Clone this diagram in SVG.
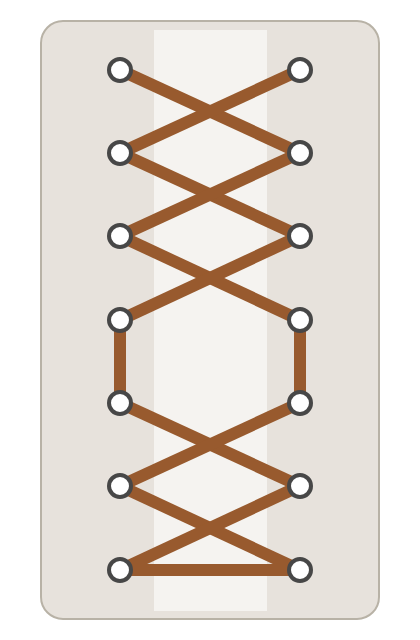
<svg xmlns="http://www.w3.org/2000/svg" width="420" height="640" viewBox="0 0 420 640">
<style>
.lace{stroke:#985a2e;stroke-width:12;fill:none;stroke-linecap:butt}
.eye{fill:#ffffff;stroke:#474747;stroke-width:4}
</style>
<g id="panel">
<rect x="41" y="21" width="338" height="598" rx="22" ry="22" fill="#e7e2dc" stroke="#b8b2a6" stroke-width="2"/>
<rect x="154" y="30" width="113" height="581" fill="#f5f3f0"/>
</g>
<g id="connectors" class="lace">
<line x1="120" y1="70" x2="300" y2="153"/>
<line x1="300" y1="70" x2="120" y2="153"/>
<line x1="120" y1="153" x2="300" y2="236"/>
<line x1="300" y1="153" x2="120" y2="236"/>
<line x1="120" y1="236" x2="300" y2="320"/>
<line x1="300" y1="236" x2="120" y2="320"/>
<line x1="120" y1="320" x2="120" y2="403"/>
<line x1="300" y1="320" x2="300" y2="403"/>
<line x1="120" y1="403" x2="300" y2="486"/>
<line x1="300" y1="403" x2="120" y2="486"/>
<line x1="120" y1="486" x2="300" y2="570"/>
<line x1="300" y1="486" x2="120" y2="570"/>
<line x1="120" y1="570" x2="300" y2="570"/>
</g>
<g id="eyelet-L1"><circle class="eye" cx="120" cy="70" r="11"/></g>
<g id="eyelet-R1"><circle class="eye" cx="300" cy="70" r="11"/></g>
<g id="eyelet-L2"><circle class="eye" cx="120" cy="153" r="11"/></g>
<g id="eyelet-R2"><circle class="eye" cx="300" cy="153" r="11"/></g>
<g id="eyelet-L3"><circle class="eye" cx="120" cy="236" r="11"/></g>
<g id="eyelet-R3"><circle class="eye" cx="300" cy="236" r="11"/></g>
<g id="eyelet-L4"><circle class="eye" cx="120" cy="320" r="11"/></g>
<g id="eyelet-R4"><circle class="eye" cx="300" cy="320" r="11"/></g>
<g id="eyelet-L5"><circle class="eye" cx="120" cy="403" r="11"/></g>
<g id="eyelet-R5"><circle class="eye" cx="300" cy="403" r="11"/></g>
<g id="eyelet-L6"><circle class="eye" cx="120" cy="486" r="11"/></g>
<g id="eyelet-R6"><circle class="eye" cx="300" cy="486" r="11"/></g>
<g id="eyelet-L7"><circle class="eye" cx="120" cy="570" r="11"/></g>
<g id="eyelet-R7"><circle class="eye" cx="300" cy="570" r="11"/></g>
</svg>
